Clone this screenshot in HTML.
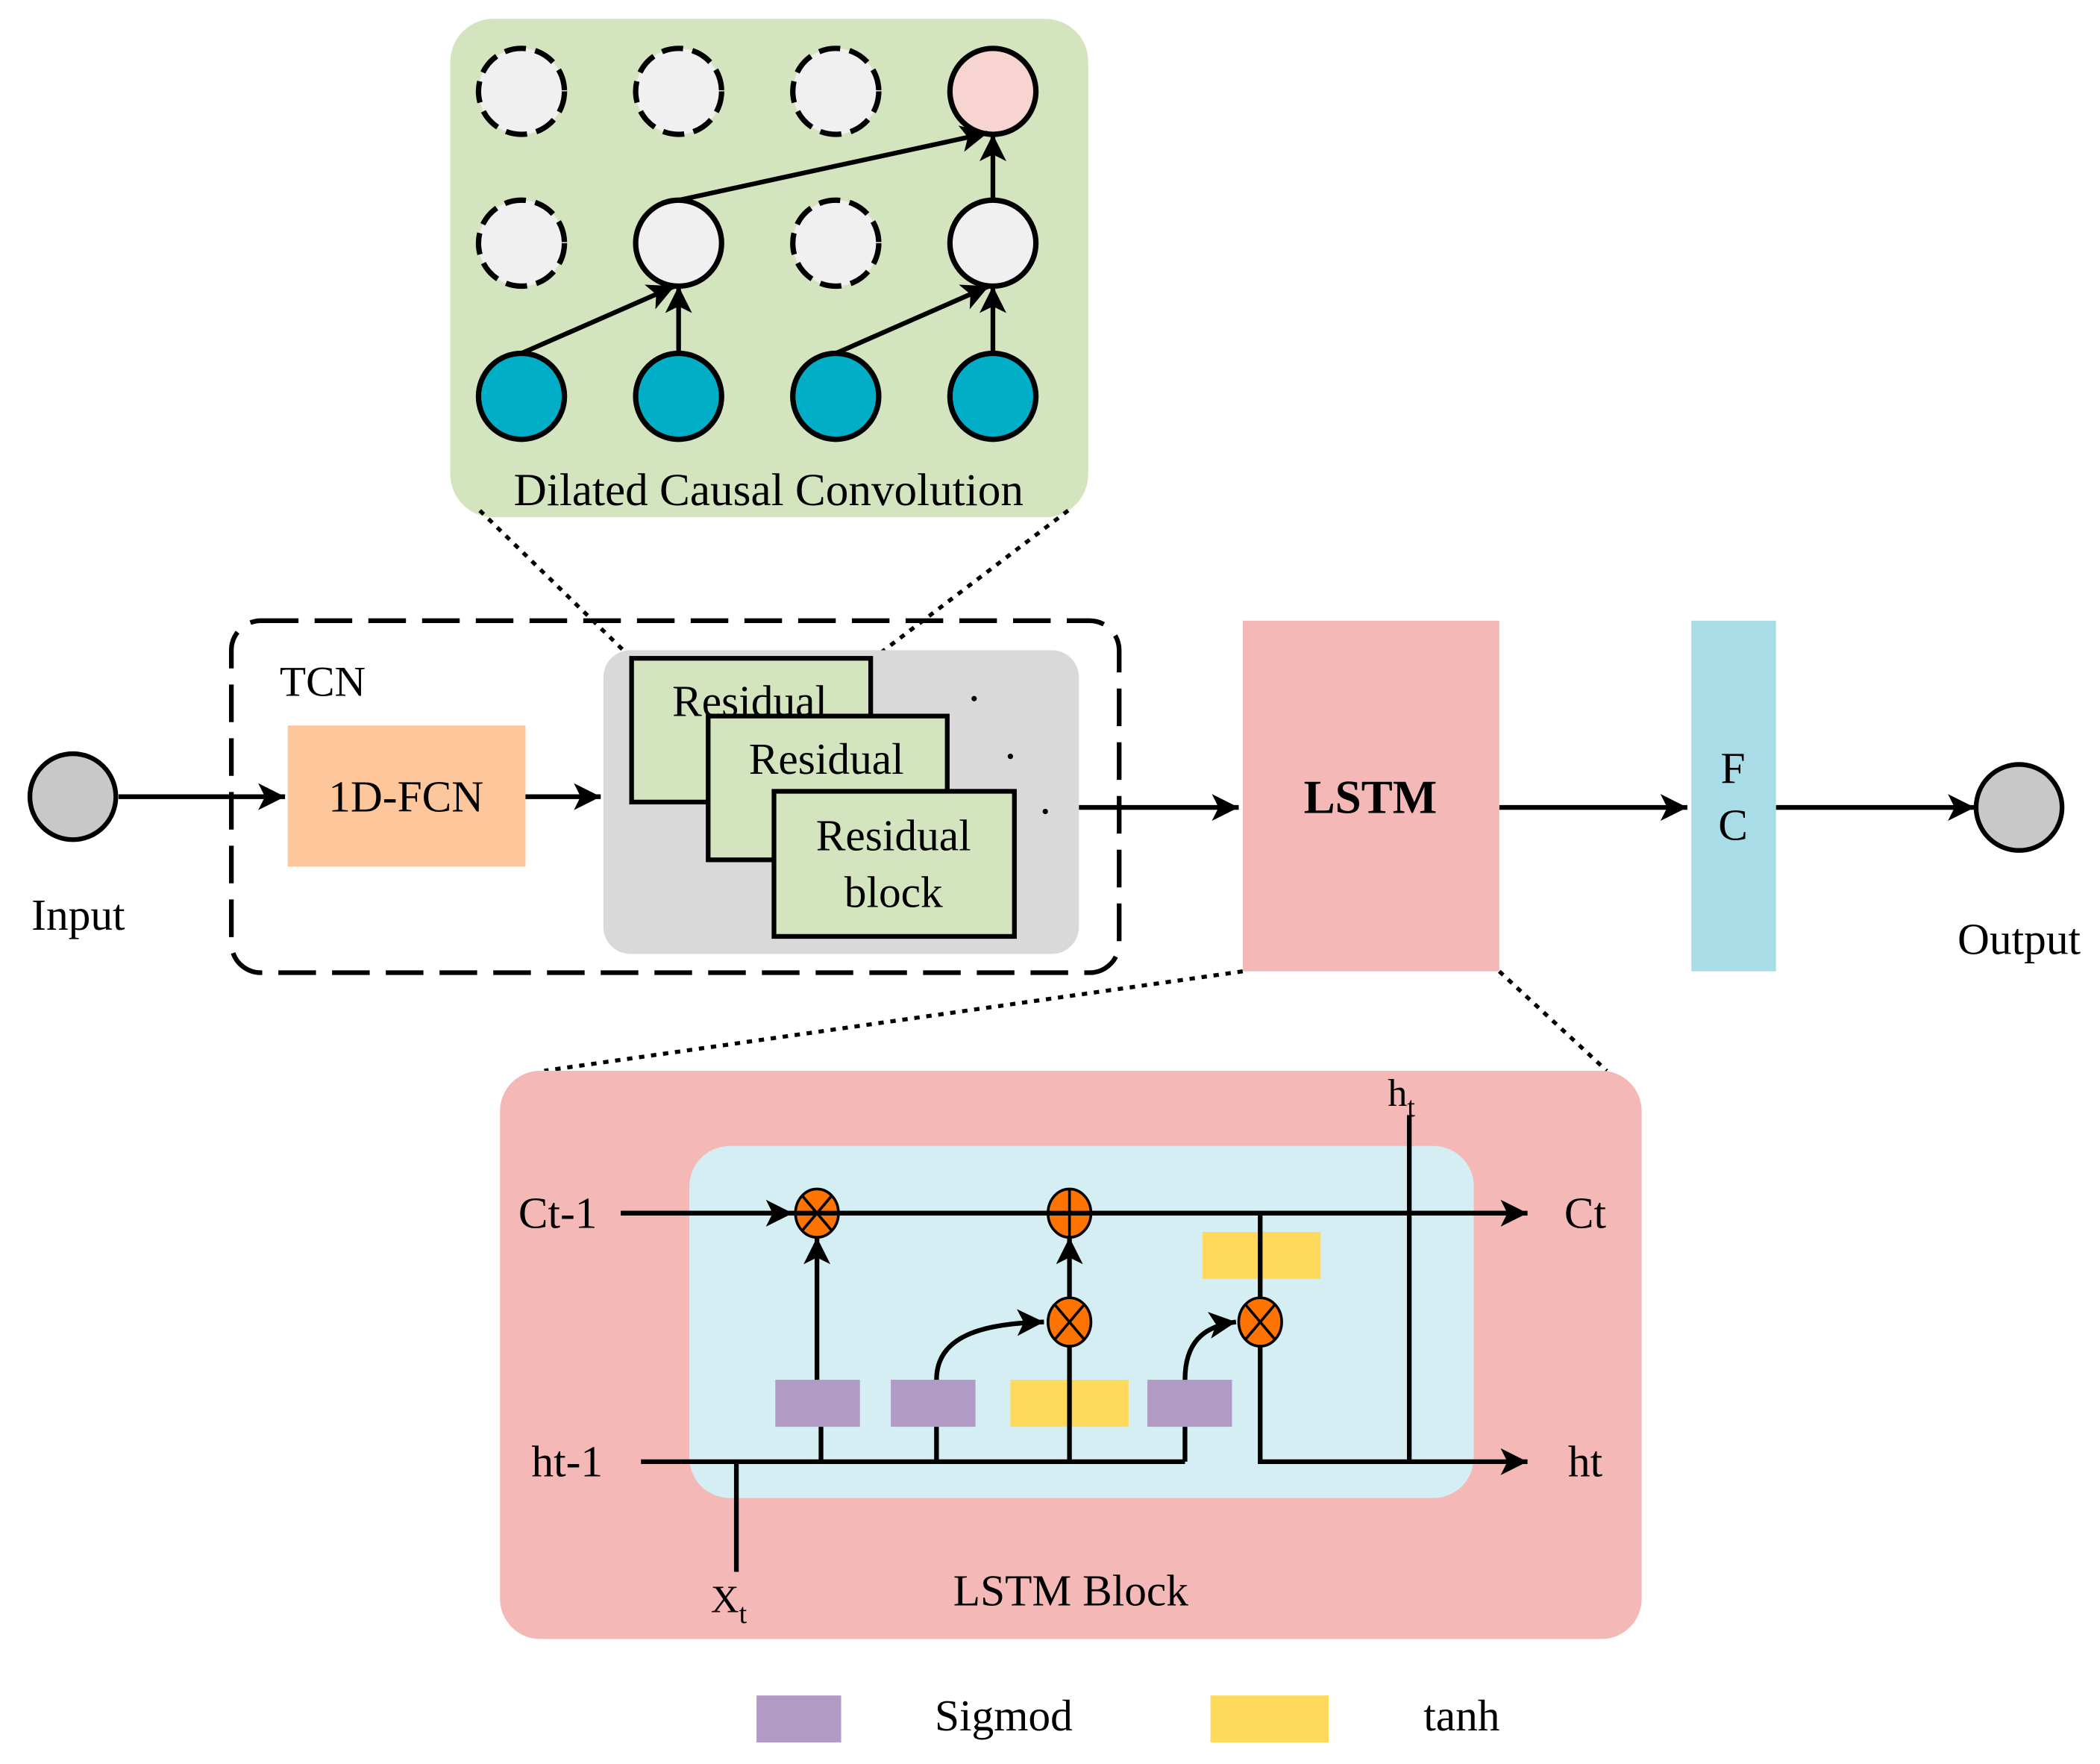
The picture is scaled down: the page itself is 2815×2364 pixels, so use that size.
<!DOCTYPE html>
<html><head><meta charset="utf-8"><style>html,body{margin:0;padding:0;background:#fff}svg{display:block}</style></head>
<body>
<svg width="2815" height="2364" viewBox="0 0 1563 1313" xmlns="http://www.w3.org/2000/svg" font-family="'Liberation Serif', serif">
<defs>
<marker id="b" markerWidth="22" markerHeight="20" refX="20" refY="10" orient="auto" markerUnits="userSpaceOnUse"><path d="M0,0 L20,10 L0,20 L5,10 Z" fill="#000"/></marker>
</defs>
<rect x="335" y="14" width="475" height="371" rx="32" fill="#d4e4bf"/>
<g stroke="#000" stroke-width="4">
<circle cx="388" cy="68" r="32" fill="#f0f0f0" stroke-dasharray="16 7"/>
<circle cx="505" cy="68" r="32" fill="#f0f0f0" stroke-dasharray="16 7"/>
<circle cx="622" cy="68" r="32" fill="#f0f0f0" stroke-dasharray="16 7"/>
<circle cx="739" cy="68" r="32" fill="#f7d4d0"/>
<circle cx="388" cy="181" r="32" fill="#f0f0f0" stroke-dasharray="16 7"/>
<circle cx="505" cy="181" r="32" fill="#f0f0f0"/>
<circle cx="622" cy="181" r="32" fill="#f0f0f0" stroke-dasharray="16 7"/>
<circle cx="739" cy="181" r="32" fill="#f0f0f0"/>
<circle cx="388" cy="295" r="32" fill="#00afc7"/>
<circle cx="505" cy="295" r="32" fill="#00afc7"/>
<circle cx="622" cy="295" r="32" fill="#00afc7"/>
<circle cx="739" cy="295" r="32" fill="#00afc7"/>
</g>
<g stroke="#000" stroke-width="3.5" fill="none">
<line x1="388" y1="263" x2="502" y2="213" marker-end="url(#b)"/>
<line x1="505" y1="263" x2="505" y2="213" marker-end="url(#b)"/>
<line x1="622" y1="263" x2="736" y2="213" marker-end="url(#b)"/>
<line x1="739" y1="263" x2="739" y2="213" marker-end="url(#b)"/>
<line x1="505" y1="149" x2="735" y2="99" marker-end="url(#b)"/>
<line x1="739" y1="149" x2="739" y2="100" marker-end="url(#b)"/>
</g>
<text x="572" y="376" font-size="34" text-anchor="middle">Dilated Causal Convolution</text>
<g stroke="#000" stroke-width="3" stroke-dasharray="4 5">
<line x1="357" y1="380" x2="470" y2="490"/>
<line x1="795" y1="380" x2="650" y2="490"/>
<line x1="925" y1="723" x2="405" y2="797"/>
<line x1="1116" y1="723" x2="1196" y2="797"/>
</g>
<rect x="172" y="462" width="661" height="262" rx="22" fill="none" stroke="#000" stroke-width="3.5" stroke-dasharray="28 12"/>
<text x="208" y="518" font-size="32">TCN</text>
<rect x="214" y="540" width="177" height="105" fill="#fdc69b"/>
<text x="302" y="604" font-size="33" text-anchor="middle">1D-FCN</text>
<circle cx="54" cy="593" r="32" fill="#c8c8c8" stroke="#000" stroke-width="3.5"/>
<text x="58" y="692" font-size="33" text-anchor="middle">Input</text>
<g stroke="#000" stroke-width="3.5">
<line x1="88" y1="593" x2="212" y2="593" marker-end="url(#b)"/>
<line x1="391" y1="593" x2="447" y2="593" marker-end="url(#b)"/>
<line x1="803" y1="601" x2="922" y2="601" marker-end="url(#b)"/>
<line x1="1116" y1="601" x2="1256" y2="601" marker-end="url(#b)"/>
<line x1="1322" y1="601" x2="1470" y2="601" marker-end="url(#b)"/>
</g>
<rect x="449" y="484" width="354" height="226" rx="20" fill="#d9d9d9"/>
<rect x="470" y="490" width="178" height="107" fill="#d4e4bf" stroke="#000" stroke-width="3.5"/>
<text x="558" y="533" font-size="33" text-anchor="middle">Residual</text>
<rect x="527" y="533" width="178" height="107" fill="#d4e4bf" stroke="#000" stroke-width="3.5"/>
<text x="615" y="576" font-size="33" text-anchor="middle">Residual</text>
<rect x="576" y="589" width="179" height="108" fill="#d4e4bf" stroke="#000" stroke-width="3.5"/>
<text x="665" y="633" font-size="33" text-anchor="middle">Residual</text>
<text x="665" y="675" font-size="33" text-anchor="middle">block</text>
<circle cx="725" cy="520" r="2" fill="#000"/><circle cx="752" cy="563" r="2" fill="#000"/><circle cx="778" cy="604" r="2" fill="#000"/>
<rect x="925" y="462" width="191" height="261" fill="#f4b9b7"/>
<text x="1020" y="605" font-size="35" font-weight="bold" text-anchor="middle">LSTM</text>
<rect x="1259" y="462" width="63" height="261" fill="#a8dde8"/>
<text x="1290" y="583" font-size="33" text-anchor="middle">F</text>
<text x="1290" y="625" font-size="33" text-anchor="middle">C</text>
<circle cx="1503" cy="601" r="32" fill="#c8c8c8" stroke="#000" stroke-width="3.5"/>
<text x="1503" y="710" font-size="33" text-anchor="middle">Output</text>
<rect x="372" y="797" width="850" height="423" rx="30" fill="#f4b9b7"/>
<rect x="513" y="853" width="584" height="262" rx="30" fill="#d5eef4"/>
<g fill="#b19bc4">
<rect x="577" y="1027" width="63" height="35"/><rect x="663" y="1027" width="63" height="35"/><rect x="854" y="1027" width="63" height="35"/>
<rect x="563" y="1262" width="63" height="35"/>
</g>
<g fill="#fed95b">
<rect x="752" y="1027" width="88" height="35"/><rect x="895" y="917" width="88" height="35"/>
<rect x="901" y="1262" width="88" height="35"/>
</g>
<g stroke="#000" stroke-width="3.5" fill="none">
<line x1="462" y1="903" x2="590" y2="903" marker-end="url(#b)"/>
<line x1="608" y1="903" x2="1137" y2="903" marker-end="url(#b)"/>
<line x1="477" y1="1088" x2="882" y2="1088"/>
<polyline points="938,1001 938,1088 1137,1088" marker-end="url(#b)"/>
<line x1="548" y1="1088" x2="548" y2="1170"/>
<line x1="1049" y1="830" x2="1049" y2="1088"/>
<line x1="611" y1="1088" x2="611" y2="1062"/>
<line x1="608" y1="1027" x2="608" y2="921" marker-end="url(#b)"/>
<line x1="697" y1="1088" x2="697" y2="1062"/>
<path d="M697,1027 C697,995 730,985 777,984" marker-end="url(#b)"/>
<line x1="796" y1="1088" x2="796" y2="1002"/>
<line x1="796" y1="966" x2="796" y2="921" marker-end="url(#b)"/>
<line x1="882" y1="1088" x2="882" y2="1062"/>
<path d="M882,1027 C882,1000 895,987 920,984" marker-end="url(#b)"/>
<line x1="938" y1="903" x2="938" y2="967"/>
</g>
<g stroke="#000" stroke-width="2">
<ellipse cx="608" cy="903" rx="16" ry="18" fill="#ff7400"/>
<line x1="597" y1="890" x2="619" y2="916"/><line x1="619" y1="890" x2="597" y2="916"/>
<ellipse cx="796" cy="903" rx="16" ry="18" fill="#ff7400"/>
<line x1="796" y1="885" x2="796" y2="921"/>
<ellipse cx="796" cy="984" rx="16" ry="18" fill="#ff7400"/>
<line x1="785" y1="971" x2="807" y2="997"/><line x1="807" y1="971" x2="785" y2="997"/>
<ellipse cx="938" cy="984" rx="16" ry="18" fill="#ff7400"/>
<line x1="927" y1="971" x2="949" y2="997"/><line x1="949" y1="971" x2="927" y2="997"/>
</g>
<line x1="462" y1="903" x2="1130" y2="903" stroke="#000" stroke-width="3.5"/>
<g font-size="33">
<text x="415" y="914" text-anchor="middle">Ct-1</text>
<text x="1180" y="914" text-anchor="middle">Ct</text>
<text x="422" y="1099" text-anchor="middle">ht-1</text>
<text x="1180" y="1099" text-anchor="middle">ht</text>
<text x="1033" y="823" font-size="29">h<tspan font-size="21" dy="8">t</tspan></text>
<text x="529" y="1200" font-size="29">X<tspan font-size="21" dy="8">t</tspan></text>
<text x="797" y="1195" text-anchor="middle">LSTM Block</text>
<text x="747" y="1288" text-anchor="middle">Sigmod</text>
<text x="1088" y="1288" text-anchor="middle">tanh</text>
</g>
</svg>
</body></html>
